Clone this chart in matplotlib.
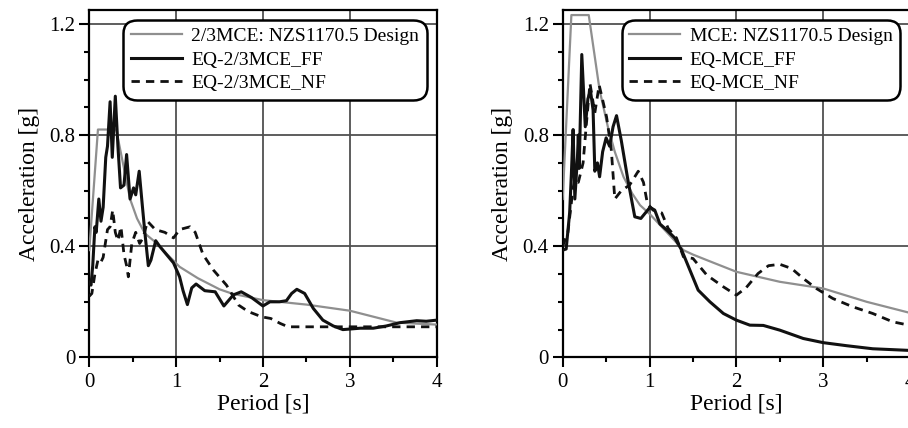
import matplotlib
matplotlib.use('Agg')
import matplotlib.pyplot as plt
from matplotlib.ticker import MultipleLocator, FixedLocator, FixedFormatter

plt.rcParams['font.family'] = ['Liberation Serif', 'DejaVu Serif']

# left panel: 2/3 MCE
t_des_l = [0, 0.1, 0.31, 0.4, 0.47, 0.55, 0.64, 0.78, 0.9, 1.04, 1.25, 1.5, 1.64, 2.0, 2.5, 3.0, 3.54, 4.0]
a_des_l = [0.386, 0.82, 0.82, 0.68, 0.57, 0.50, 0.446, 0.41, 0.37, 0.326, 0.285, 0.245, 0.23, 0.206, 0.19, 0.168, 0.125, 0.118]

t_ff_l = [0, 0.02, 0.04, 0.065, 0.08, 0.11, 0.135, 0.16, 0.19, 0.21, 0.24, 0.265, 0.30, 0.33, 0.36, 0.40,
          0.43, 0.47, 0.51, 0.535, 0.575, 0.61, 0.64, 0.68, 0.71, 0.765, 0.81, 0.89, 0.97, 1.04, 1.08, 1.13,
          1.18, 1.23, 1.33, 1.45, 1.55, 1.66, 1.75, 1.87, 2.0, 2.08, 2.19, 2.27, 2.33, 2.39, 2.48, 2.58,
          2.69, 2.81, 2.92, 3.12, 3.27, 3.42, 3.58, 3.77, 3.88, 4.0]
a_ff_l = [0.27, 0.26, 0.33, 0.47, 0.45, 0.57, 0.49, 0.54, 0.72, 0.76, 0.92, 0.72, 0.94, 0.76, 0.61, 0.62,
          0.73, 0.57, 0.61, 0.585, 0.67, 0.55, 0.45, 0.33, 0.35, 0.42, 0.40, 0.37, 0.34, 0.29, 0.24, 0.19,
          0.25, 0.264, 0.24, 0.236, 0.185, 0.225, 0.236, 0.215, 0.185, 0.20, 0.20, 0.204, 0.23, 0.245, 0.23, 0.176,
          0.134, 0.113, 0.10, 0.105, 0.105, 0.113, 0.125, 0.132, 0.13, 0.134]

t_nf_l = [0, 0.03, 0.065, 0.10, 0.13, 0.16, 0.21, 0.24, 0.27, 0.30, 0.33, 0.365, 0.40, 0.43, 0.45, 0.49,
          0.535, 0.58, 0.62, 0.67, 0.76, 0.87, 0.97, 1.04, 1.16, 1.22, 1.31, 1.43, 1.58, 1.72, 1.83, 1.985,
          2.09, 2.20, 2.29, 2.6, 3.0, 3.5, 4.0]
a_nf_l = [0.22, 0.23, 0.30, 0.35, 0.34, 0.36, 0.46, 0.47, 0.53, 0.45, 0.42, 0.47, 0.37, 0.33, 0.29, 0.41,
          0.45, 0.41, 0.43, 0.49, 0.46, 0.45, 0.43, 0.46, 0.47, 0.45, 0.37, 0.314, 0.26, 0.188, 0.165, 0.146,
          0.14, 0.122, 0.11, 0.11, 0.11, 0.11, 0.11]

# right panel: MCE
t_des_r = [0, 0.1, 0.3, 0.425, 0.52, 0.6, 0.7, 0.8, 0.89, 1.005, 1.2, 1.39, 1.5, 1.66, 2.0, 2.5, 3.0, 3.5, 4.0]
a_des_r = [0.57, 1.232, 1.232, 0.962, 0.83, 0.74, 0.65, 0.59, 0.548, 0.515, 0.45, 0.386, 0.37, 0.35, 0.308, 0.272, 0.248, 0.20, 0.16]

t_ff_r = [0, 0.04, 0.08, 0.10, 0.12, 0.14, 0.17, 0.18, 0.19, 0.22, 0.26, 0.29, 0.32, 0.35, 0.37, 0.40,
          0.425, 0.46, 0.50, 0.54, 0.58, 0.62, 0.675, 0.75, 0.83, 0.90, 1.005, 1.06, 1.12, 1.20, 1.29, 1.37,
          1.465, 1.56, 1.695, 1.85, 2.0, 2.155, 2.31, 2.5, 2.77, 3.0, 3.27, 3.57, 4.0]
a_ff_r = [0.386, 0.39, 0.52, 0.66, 0.82, 0.57, 0.72, 0.80, 0.68, 1.09, 0.83, 0.93, 0.96, 0.89, 0.67, 0.70,
          0.65, 0.74, 0.79, 0.76, 0.83, 0.87, 0.78, 0.64, 0.506, 0.50, 0.54, 0.53, 0.48, 0.458, 0.43, 0.386,
          0.314, 0.242, 0.20, 0.158, 0.134, 0.116, 0.115, 0.098, 0.068, 0.053, 0.042, 0.031, 0.025]

t_nf_r = [0, 0.06, 0.12, 0.14, 0.18, 0.235, 0.27, 0.314, 0.37, 0.42, 0.505, 0.56, 0.60, 0.675, 0.77, 0.87,
          0.93, 0.975, 1.04, 1.14, 1.215, 1.31, 1.39, 1.50, 1.66, 1.85, 2.0, 2.11, 2.25, 2.37, 2.5, 2.635,
          2.77, 2.92, 3.11, 3.34, 3.57, 3.80, 4.0]
a_nf_r = [0.40, 0.45, 0.61, 0.64, 0.63, 0.70, 0.83, 0.986, 0.88, 0.98, 0.866, 0.746, 0.57, 0.60, 0.62, 0.67,
          0.63, 0.554, 0.53, 0.52, 0.464, 0.43, 0.362, 0.356, 0.296, 0.254, 0.224, 0.25, 0.302, 0.33, 0.335, 0.32,
          0.284, 0.248, 0.212, 0.182, 0.158, 0.128, 0.115]

yticks = [0, 0.4, 0.8, 1.2]
ylabels = ['0', '0.4', '0.8', '1.2']
xticks = [0, 1, 2, 3, 4]
xlabels = ['0', '1', '2', '3', '4']

gray = '#8f8f8f'

fig = plt.figure(figsize=(9.08, 4.28), dpi=100)
ax1 = fig.add_axes([0.0983, 0.165, 0.3826, 0.8115])
ax2 = fig.add_axes([0.6197, 0.165, 0.3826, 0.8115])

panels = [
    (ax1, t_des_l, a_des_l, t_ff_l, a_ff_l, t_nf_l, a_nf_l,
     ['2/3MCE: NZS1170.5 Design', 'EQ-2/3MCE_FF', 'EQ-2/3MCE_NF']),
    (ax2, t_des_r, a_des_r, t_ff_r, a_ff_r, t_nf_r, a_nf_r,
     ['MCE: NZS1170.5 Design', 'EQ-MCE_FF', 'EQ-MCE_NF']),
]

for ax, td, ad, tf, af, tn, an, labels in panels:
    ax.plot(td, ad, color=gray, lw=1.6, label=labels[0], zorder=3)
    ax.plot(tf, af, color='#111111', lw=2.2, label=labels[1], zorder=4)
    ax.plot(tn, an, color='#111111', lw=2.0, ls=(0, (3, 2.2)), label=labels[2], zorder=4)
    ax.set_xlim(0, 4)
    ax.set_ylim(0, 1.25)
    ax.xaxis.set_major_locator(FixedLocator(xticks))
    ax.xaxis.set_major_formatter(FixedFormatter(xlabels))
    ax.xaxis.set_minor_locator(MultipleLocator(0.5))
    ax.yaxis.set_major_locator(FixedLocator(yticks))
    ax.yaxis.set_major_formatter(FixedFormatter(ylabels))
    ax.yaxis.set_minor_locator(MultipleLocator(0.1))
    ax.grid(True, which='major', color='#505050', lw=1.3, zorder=1)
    ax.tick_params(which='major', direction='out', length=7, width=1.5, labelsize=15)
    ax.tick_params(which='minor', direction='out', length=3.5, width=1.5)
    ax.tick_params(axis='x', which='major', pad=4)
    ax.tick_params(axis='y', which='major', pad=3)
    for s in ax.spines.values():
        s.set_linewidth(1.6)
    ax.set_xlabel('Period [s]', fontsize=17, labelpad=1)
    ax.set_ylabel('Acceleration [g]', fontsize=17, labelpad=7)
    leg = ax.legend(loc='upper right', fontsize=14, handlelength=2.6, handletextpad=0.5,
                    labelspacing=0.3, borderpad=0.4, borderaxespad=0.5, fancybox=True, framealpha=1)
    fr = leg.get_frame()
    fr.set_edgecolor('black')
    fr.set_linewidth(1.8)
    fr.set_boxstyle('round,pad=0,rounding_size=0.7')
    leg.set_zorder(10)

fig.savefig('out.png', dpi=100)
